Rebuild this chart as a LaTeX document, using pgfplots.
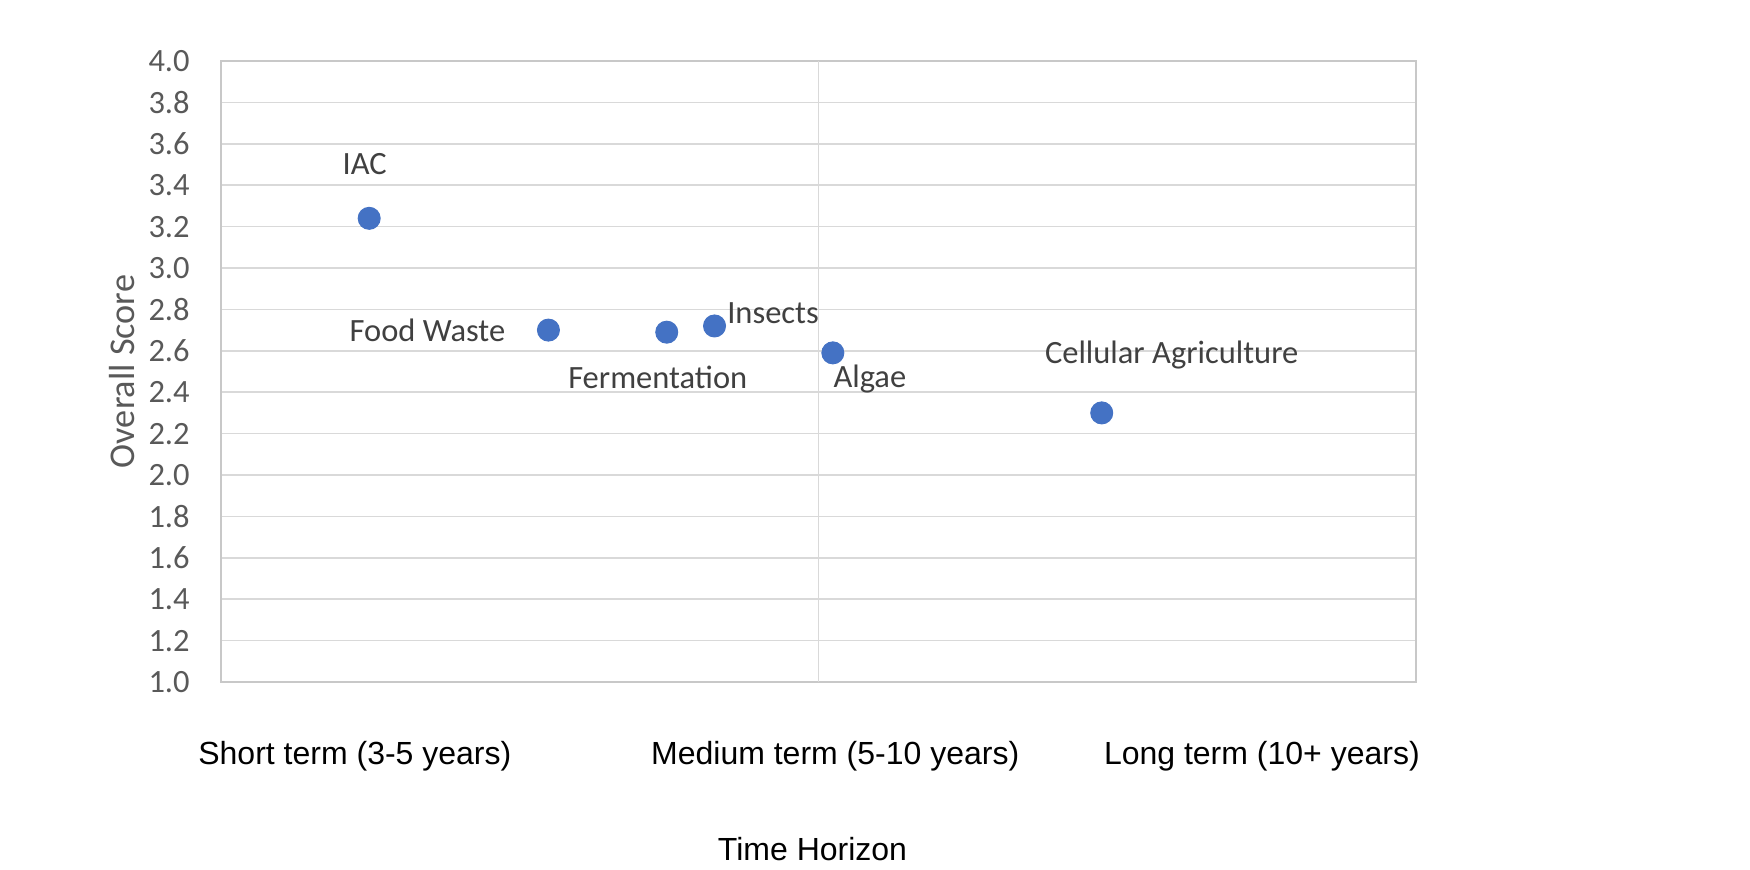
\documentclass[border=0pt]{standalone}
\usepackage{fontspec}
\setmainfont{Carlito}
\newfontfamily\arialfont{Liberation Sans}
\usepackage{pgfplots}
\usepackage{pgfplotstable}
\pgfplotsset{compat=1.18}

\definecolor{dotblue}{HTML}{4472C4}
\definecolor{gridgray}{HTML}{D9D9D9}
\definecolor{framegray}{HTML}{C8C8C8}
\definecolor{textgray}{HTML}{595959}
\definecolor{labelgray}{HTML}{404040}

% x on a 0-100 scale across the plot area; label centre offsets in pt
\pgfplotstableread[col sep=comma, row sep=\\]{
x,y,label,dx,dy\\
12.4,3.24,IAC,-1.8,17.6\\
27.4,2.70,Food Waste,-48.4,-4.4\\
37.3,2.69,Fermentation,-3.6,-22.4\\
41.3,2.72,Insects,23.4,0.8\\
51.2,2.59,Algae,14.8,-14\\
73.7,2.30,Cellular Agriculture,28,19.6\\
}\scores

\begin{document}
\begin{tikzpicture}
\begin{axis}[
    scale only axis,
    width=478pt, height=248.4pt,
    xmin=0, xmax=100,
    ymin=1, ymax=4,
    ytick distance=0.2,
    major tick length=0pt,
    xtick={11.2,51.4,87.1},
    xticklabels={Short term (3-5 years), Medium term (5-10 years), Long term (10+ years)},
    xticklabel style={font=\arialfont\fontsize{12.8}{15}\selectfont, text=black,
        anchor=center, yshift=-29.6pt},
    extra x ticks={50},
    extra x tick labels={},
    extra x tick style={xmajorgrids=true},
    ymajorgrids=true,
    grid style={draw=gridgray, line width=0.7pt},
    axis line style={draw=framegray, line width=0.7pt},
    yticklabel style={font=\fontsize{13}{15}\selectfont, text=textgray,
        /pgf/number format/fixed, /pgf/number format/fixed zerofill,
        /pgf/number format/precision=1, xshift=-9pt},
    /pgf/number format/assume math mode=true,
    ylabel={Overall Score},
    ylabel style={font=\fontsize{14.5}{17}\selectfont, text=textgray,
        at={(axis description cs:-0.083,0.5)}, anchor=center},
    xlabel={Time Horizon},
    xlabel style={font=\arialfont\fontsize{12.8}{15}\selectfont, text=black,
        at={(axis description cs:0.495,-0.269)}, anchor=center},
    clip=false,
]
\addplot[
    only marks,
    mark=*,
    mark size=4.4pt,
    mark options={fill=dotblue, draw=dotblue},
    point meta=explicit symbolic,
    visualization depends on={\thisrow{dx}\as\dx},
    visualization depends on={\thisrow{dy}\as\dy},
    nodes near coords,
    nodes near coords style={font=\fontsize{13}{15}\selectfont, text=labelgray,
        anchor=base, inner sep=0pt, xshift=\dx pt, yshift=\dy pt},
] table[x=x, y=y, meta=label] {\scores};
\end{axis}
\path (current axis.south west) ++(-88.4pt,-73.6pt) rectangle ++(700pt,346.4pt);
\end{tikzpicture}
\end{document}
